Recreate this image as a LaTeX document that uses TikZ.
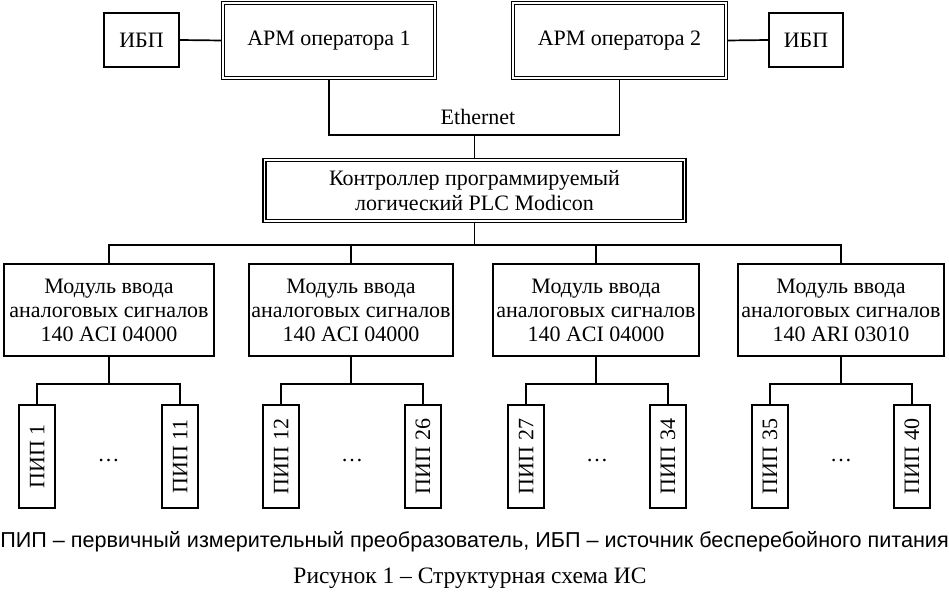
\documentclass[tikz,border=0pt]{standalone}
\usepackage{fontspec}
\setmainfont{Liberation Serif}
\newfontfamily\capsans{Liberation Sans}
\usetikzlibrary{backgrounds}
\begin{document}
\begin{tikzpicture}[x=1pt,y=-1pt,
  every node/.style={font=\fontsize{22}{24}\selectfont, inner sep=0pt},
  box/.style={draw, line width=2pt, align=center},
  dbox/.style={draw, line width=1.6pt, double, double distance=1.6pt, align=center},
  pipbox/.style={draw, line width=2pt, minimum width=36pt, minimum height=103pt},
  modbox/.style={box, minimum height=92pt},
  wire/.style={line width=1.7pt}]
\useasboundingbox (0,0) rectangle (949,594);
% top row
\node[box, minimum width=75pt, minimum height=54pt] (ibp1) at (141.5,40) {ИБП};
\node[dbox, minimum width=212pt, minimum height=75pt] (arm1) at (329,40.5) {АРМ оператора 1};
\node[dbox, minimum width=213pt, minimum height=75pt] (arm2) at (619.5,40.5) {АРМ оператора 2};
\node[box, minimum width=74pt, minimum height=54pt] (ibp2) at (806,40) {ИБП};
\node (eth) at (478,117) {Ethernet};
% controller
\node[dbox, minimum width=420pt, minimum height=61pt, font=\fontsize{22}{25}\selectfont] (ctrl) at (474.5,190.5) {Контроллер программируемый\\логический PLC Modicon};
% modules
\node[modbox, minimum width=210pt] (m1) at (109,310) {Модуль ввода\\аналоговых сигналов\\140 ACI 04000};
\node[modbox, minimum width=204pt] (m2) at (351,310) {Модуль ввода\\аналоговых сигналов\\140 ACI 04000};
\node[modbox, minimum width=206pt] (m3) at (596,310) {Модуль ввода\\аналоговых сигналов\\140 ACI 04000};
\node[modbox, minimum width=206pt] (m4) at (841,310) {Модуль ввода\\аналоговых сигналов\\140 ARI 03010};
% PIPs
\node[pipbox] (p1) at (37,456.5) {\rotatebox{90}{ПИП 1}};
\node[pipbox] (p11) at (180,456.5) {\rotatebox{90}{ПИП 11}};
\node[pipbox] (p12) at (281,456.5) {\rotatebox{90}{ПИП 12}};
\node[pipbox] (p26) at (423,456.5) {\rotatebox{90}{ПИП 26}};
\node[pipbox] (p27) at (526,456.5) {\rotatebox{90}{ПИП 27}};
\node[pipbox] (p34) at (668,456.5) {\rotatebox{90}{ПИП 34}};
\node[pipbox] (p35) at (770,456.5) {\rotatebox{90}{ПИП 35}};
\node[pipbox] (p40) at (912,456.5) {\rotatebox{90}{ПИП 40}};
% dots
\node[anchor=base] (d1) at (108.5,461) {…};
\node[anchor=base] (d2) at (352,461) {…};
\node[anchor=base] (d3) at (597,461) {…};
\node[anchor=base] (d4) at (841,461) {…};
% captions
\node[anchor=base, font=\capsans\fontsize{21.6}{24}\selectfont] (cap1) at (474.5,547) {ПИП – первичный измерительный преобразователь, ИБП – источник бесперебойного питания};
\node[anchor=base, font=\fontsize{23.5}{26}\selectfont] (cap2) at (470,583) {Рисунок 1 – Структурная схема ИС};
% coordinates
\coordinate (eb) at (474.5,135);
\coordinate (mb) at (474.5,245);
\coordinate (s1) at (109,384);
\coordinate (s2) at (351,384);
\coordinate (s3) at (596,384);
\coordinate (s4) at (841,384);
\begin{scope}[on background layer]
\draw[wire] (ibp1.east) -- (arm1.west);
\draw[wire] (arm2.east) -- (ibp2.west);
\draw[wire] (arm1.south) -- (arm1.south |- eb) -- (arm2.south |- eb) -- (arm2.south);
\draw[wire] (eb) -- (ctrl.north);
\draw[wire] (ctrl.south) -- (mb);
\draw[wire] (m1.north) -- (m1.north |- mb) -- (m4.north |- mb) -- (m4.north);
\draw[wire] (m2.north) -- (m2.north |- mb);
\draw[wire] (m3.north) -- (m3.north |- mb);
\draw[wire] (m1.south) -- (s1);
\draw[wire] (m2.south) -- (s2);
\draw[wire] (m3.south) -- (s3);
\draw[wire] (m4.south) -- (s4);
\draw[wire] (p1.north) -- (p1.north |- s1) -- (p11.north |- s1) -- (p11.north);
\draw[wire] (p12.north) -- (p12.north |- s2) -- (p26.north |- s2) -- (p26.north);
\draw[wire] (p27.north) -- (p27.north |- s3) -- (p34.north |- s3) -- (p34.north);
\draw[wire] (p35.north) -- (p35.north |- s4) -- (p40.north |- s4) -- (p40.north);
\end{scope}
\end{tikzpicture}
\end{document}
